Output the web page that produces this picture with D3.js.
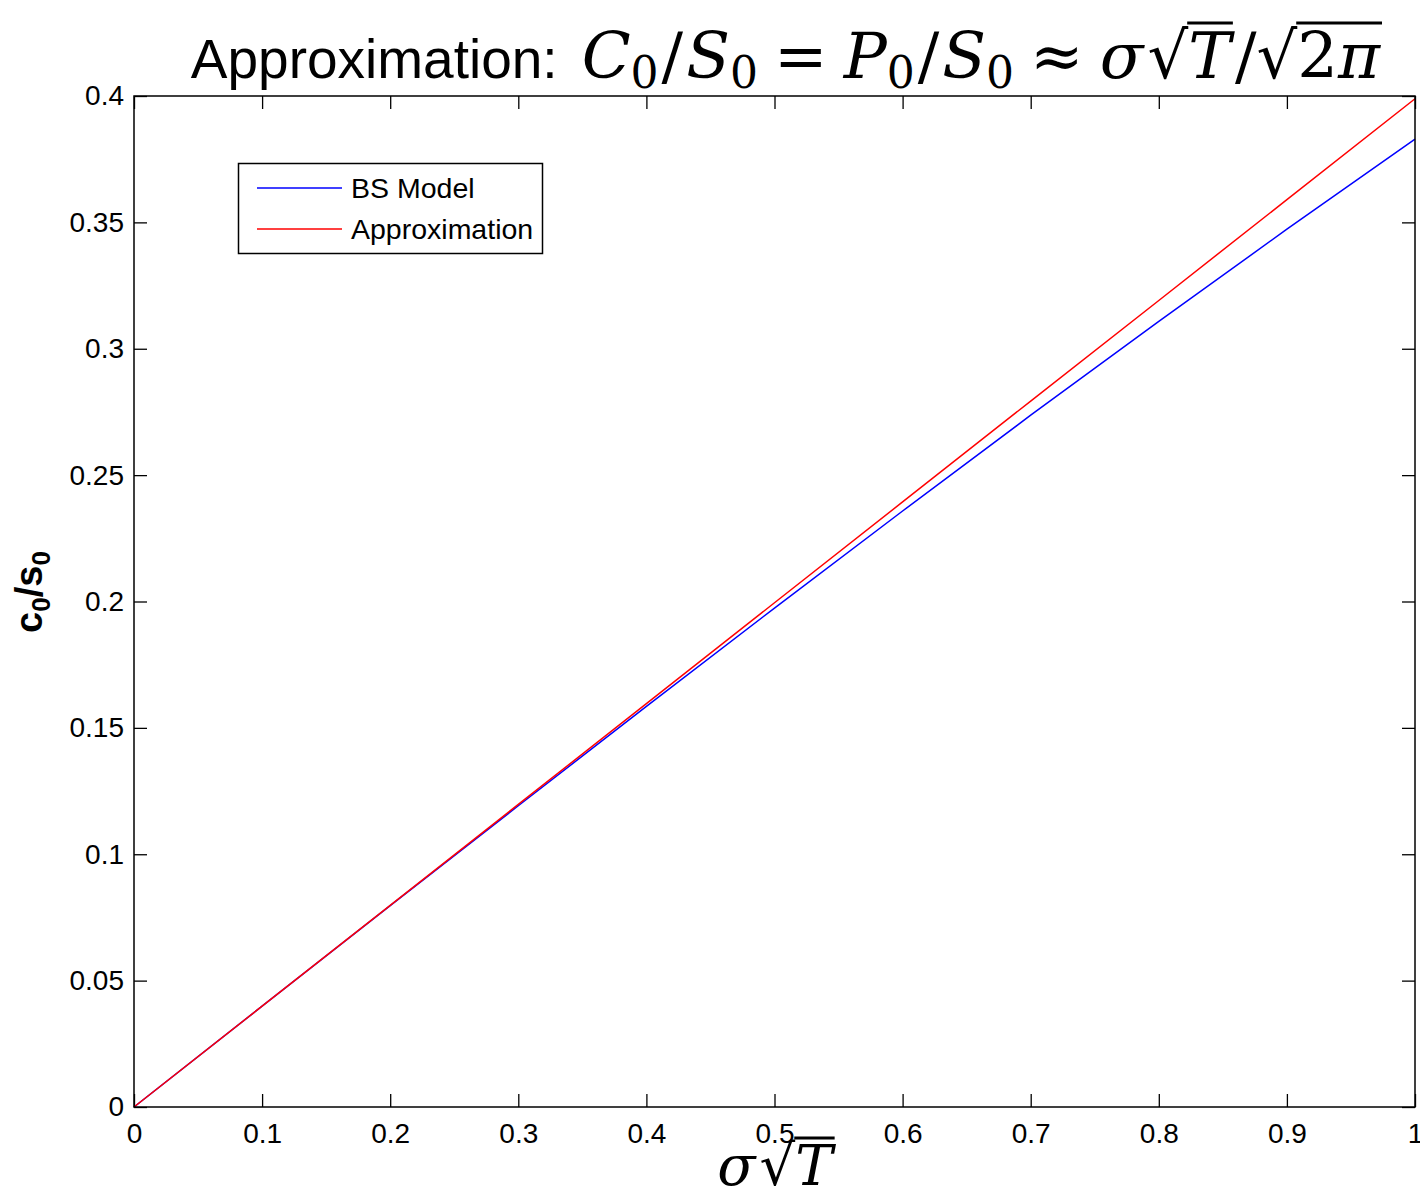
<!DOCTYPE html>
<html>
<head>
<meta charset="utf-8">
<script src="https://cdn.jsdelivr.net/npm/d3@7"></script>
<style>
  body { margin: 0; background: #fff; }
  text { fill: #000; }
</style>
</head>
<body>
<script>
// sigma*sqrt(T) values and the two curves
var xVals = [0, 0.1, 0.2, 0.3, 0.4, 0.5, 0.6, 0.7, 0.8, 0.9, 1.0];
var bsModel = [0, 0.0399, 0.0797, 0.1192, 0.1585, 0.1974, 0.2358, 0.2737, 0.3108, 0.3473, 0.3829];
var approx = [0, 0.0399, 0.0798, 0.1197, 0.1596, 0.1995, 0.2394, 0.2793, 0.3191, 0.3590, 0.3989];
var xTicks = [0, 0.1, 0.2, 0.3, 0.4, 0.5, 0.6, 0.7, 0.8, 0.9, 1];
var yTicks = [0, 0.05, 0.1, 0.15, 0.2, 0.25, 0.3, 0.35, 0.4];

var W = 1420, H = 1193;
var pLeft = 134, pRight = 1415, pTop = 96, pBottom = 1107;
var sans = "'Liberation Sans', Arial, sans-serif";
var serif = "'DejaVu Serif', 'Liberation Serif', serif";

var svg = d3.select("body").append("svg")
  .attr("width", W)
  .attr("height", H);

var x = d3.scaleLinear().domain([0, 1]).range([pLeft, pRight]);
var y = d3.scaleLinear().domain([0, 0.4]).range([pBottom, pTop]);

// ticks inside the box, on all four sides (matlab style)
var tk = 13;
svg.append("g")
  .attr("transform", "translate(0," + pBottom + ")")
  .call(d3.axisBottom(x).tickValues(xTicks).tickSizeInner(-tk).tickSizeOuter(0).tickPadding(16).tickFormat(d3.format("")))
  .call(function(g) { g.select(".domain").remove(); });
svg.append("g")
  .attr("transform", "translate(0," + pTop + ")")
  .call(d3.axisTop(x).tickValues(xTicks).tickSizeInner(-tk).tickSizeOuter(0).tickFormat(""))
  .call(function(g) { g.select(".domain").remove(); });
svg.append("g")
  .attr("transform", "translate(" + pLeft + ",0)")
  .call(d3.axisLeft(y).tickValues(yTicks).tickSizeInner(-tk).tickSizeOuter(0).tickPadding(10).tickFormat(d3.format("")))
  .call(function(g) { g.select(".domain").remove(); });
svg.append("g")
  .attr("transform", "translate(" + pRight + ",0)")
  .call(d3.axisRight(y).tickValues(yTicks).tickSizeInner(-tk).tickSizeOuter(0).tickFormat(""))
  .call(function(g) { g.select(".domain").remove(); });

svg.selectAll(".tick line").attr("stroke", "#000").attr("stroke-width", 1.3);
svg.selectAll(".tick text")
  .attr("font-family", sans)
  .attr("font-size", 28)
  .attr("fill", "#000");

// curves
var line = d3.line()
  .x(function(d, i) { return x(xVals[i]); })
  .y(function(d) { return y(d); });

svg.append("path").datum(bsModel)
  .attr("d", line).attr("fill", "none")
  .attr("stroke", "#0000ff").attr("stroke-width", 1.5);
svg.append("path").datum(approx)
  .attr("d", line).attr("fill", "none")
  .attr("stroke", "#ff0000").attr("stroke-width", 1.5);

// box
svg.append("rect")
  .attr("x", pLeft).attr("y", pTop)
  .attr("width", pRight - pLeft).attr("height", pBottom - pTop)
  .attr("fill", "none").attr("stroke", "#000").attr("stroke-width", 1.5);

// legend
var lg = svg.append("g");
lg.append("rect")
  .attr("x", 238.5).attr("y", 163.5).attr("width", 304).attr("height", 90)
  .attr("fill", "#fff").attr("stroke", "#000").attr("stroke-width", 1.5);
var legendItems = [["BS Model", "#0000ff"], ["Approximation", "#ff0000"]];
legendItems.forEach(function(it, i) {
  var ly = 188 + i * 41;
  lg.append("line").attr("x1", 257).attr("x2", 342).attr("y1", ly).attr("y2", ly)
    .attr("stroke", it[1]).attr("stroke-width", 1.5);
  lg.append("text").attr("x", 351).attr("y", ly + 10)
    .attr("font-family", sans).attr("font-size", 28.5).text(it[0]);
});

// sequential pieces of text, with overlines for sqrt
function writePieces(g, x0, base, pieces) {
  var cx = x0;
  var marks = {};
  pieces.forEach(function(p) {
    if (p.gap) { cx += p.gap; return; }
    if (p.mark) { marks[p.mark] = cx; return; }
    if (p.bar) {
      g.append("line").attr("x1", marks[p.bar] - 1).attr("x2", cx + 2)
        .attr("y1", base + p.dy).attr("y2", base + p.dy)
        .attr("stroke", "#000").attr("stroke-width", p.w);
      return;
    }
    var t = g.append("text").attr("x", cx).attr("y", base + (p.dy || 0))
      .attr("font-family", p.f).attr("font-size", p.s)
      .attr("font-style", p.i ? "italic" : "normal")
      .attr("font-weight", p.b ? "bold" : "normal")
      .text(p.t);
    cx += t.node().getComputedTextLength() + (p.after || 0);
  });
  return cx;
}

// title
var tS = 55, mS = 64, sub = 44;
var title = svg.append("g");
var tp = [
  {t: "Approximation:", f: sans, s: tS}, {gap: 24},
  {t: "C", f: serif, s: mS, i: true}, {t: "0", f: serif, s: sub, dy: 10},
  {gap: 3}, {t: "/", f: serif, s: mS}, {gap: 3},
  {t: "S", f: serif, s: mS, i: true}, {t: "0", f: serif, s: sub, dy: 10},
  {gap: 16}, {t: "=", f: serif, s: mS}, {gap: 16},
  {t: "P", f: serif, s: mS, i: true}, {t: "0", f: serif, s: sub, dy: 10},
  {gap: 3}, {t: "/", f: serif, s: mS}, {gap: 3},
  {t: "S", f: serif, s: mS, i: true}, {t: "0", f: serif, s: sub, dy: 10},
  {gap: 16}, {t: "≈", f: serif, s: mS}, {gap: 16},
  {t: "σ", f: serif, s: mS, i: true}, {gap: 4}, {t: "√", f: serif, s: mS}, {mark: "a"},
  {t: "T", f: serif, s: mS, i: true}, {bar: "a", dy: -55, w: 3.2},
  {gap: 4}, {t: "/", f: serif, s: mS}, {t: "√", f: serif, s: mS}, {mark: "b"},
  {t: "2", f: serif, s: mS}, {t: "π", f: serif, s: mS, i: true}, {bar: "b", dy: -55, w: 3.2}
];
var endX = writePieces(title, 0, 78, tp);
title.attr("transform", "translate(" + (1380 - endX) + ",0)");

// x label
var xl = svg.append("g");
var xEnd = writePieces(xl, 0, 1185, [
  {t: "σ", f: serif, s: 56, i: true}, {gap: 4}, {t: "√", f: serif, s: 56}, {mark: "c"},
  {t: "T", f: serif, s: 56, i: true}, {bar: "c", dy: -47, w: 3}
]);
xl.attr("transform", "translate(" + (775 - xEnd / 2) + ",0)");

// y label
var yl = svg.append("g");
var yEnd = writePieces(yl, 0, 0, [
  {t: "c", f: sans, s: 38, b: true}, {t: "0", f: sans, s: 26, b: true, dy: 8},
  {t: "/s", f: sans, s: 38, b: true}, {t: "0", f: sans, s: 26, b: true, dy: 8}
]);
yl.attr("transform", "translate(42," + (592 + yEnd / 2) + ") rotate(-90)");
</script>
</body>
</html>
